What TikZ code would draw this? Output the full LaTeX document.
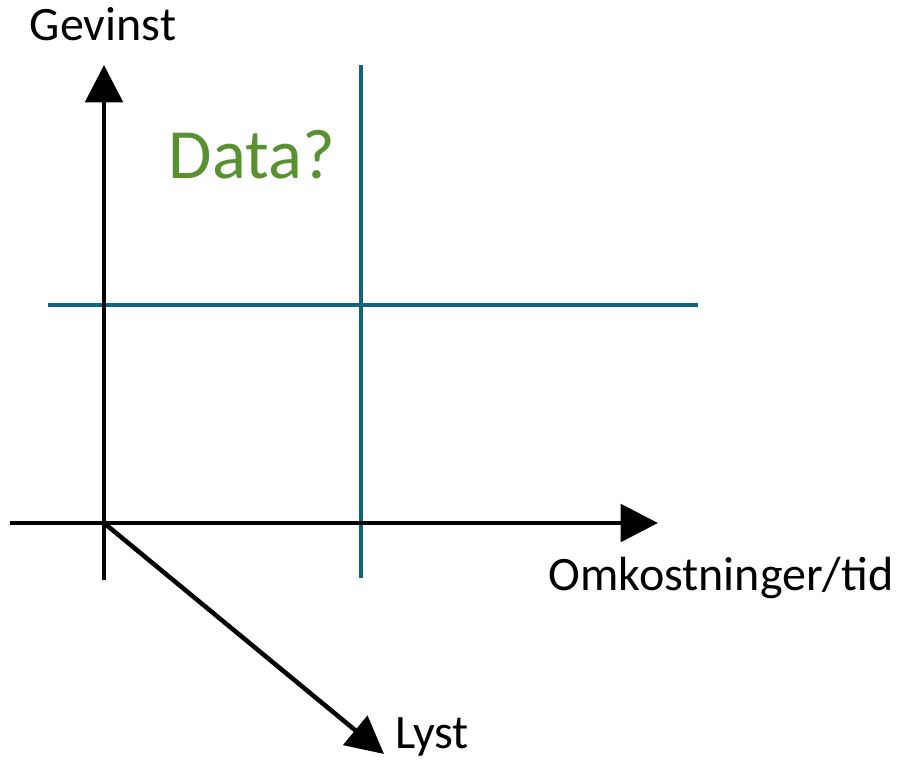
\documentclass[tikz,border=0pt]{standalone}
\usepackage{fontspec}
\setmainfont{Carlito}
\usetikzlibrary{arrows.meta}
\usetikzlibrary{positioning}

\definecolor{tealline}{RGB}{18,100,124}
\definecolor{datagreen}{RGB}{88,145,48}

\begin{document}
\begin{tikzpicture}[x=0.75pt,y=-0.75pt,
  axis/.style={line width=3.4pt,-{Triangle[length=28pt,width=28pt]}},
  grid/.style={line width=3.4pt,tealline},
  every node/.style={inner sep=0pt,font=\fontsize{36pt}{40pt}\selectfont}]
  \useasboundingbox (0,0) rectangle (901,761);

  % axes
  \coordinate (o) at (104,523);
  \coordinate (ybot) at (104,580);
  \coordinate (ytop) at (104,65);
  \coordinate (xleft) at (10,523);
  \coordinate (xright) at (658,523);
  \coordinate (ztip) at (384,754);

  % teal lines
  \coordinate (v1) at (361,65);
  \coordinate (v2) at (361,578);
  \coordinate (h1) at (48,305);
  \coordinate (h2) at (698,305);

  \node (gevinst) at (103,24){Gevinst};
  \node (omk) at (721,578){Omkostninger/tid};
  \node (lyst) at (432,737){Lyst};
  \node[text=datagreen,font=\fontsize{53pt}{58pt}\selectfont] (data) at (252,155){Data?};

  \draw[grid](v1)--(v2);
  \draw[grid](h1)--(h2);

  \draw[axis](ybot)--(ytop);
  \draw[axis](xleft)--(xright);
  \draw[axis](o)--(ztip);
\end{tikzpicture}
\end{document}
